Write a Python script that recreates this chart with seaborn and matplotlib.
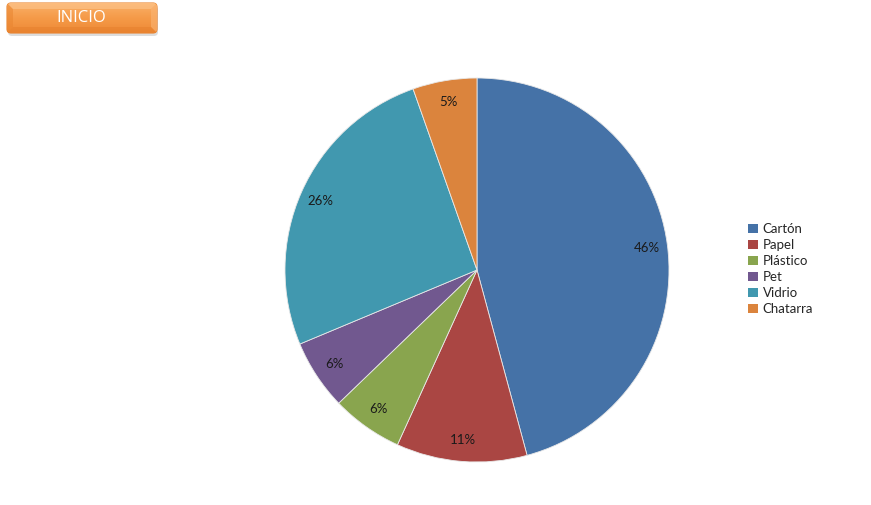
import matplotlib
matplotlib.use("Agg")
import matplotlib.pyplot as plt
from matplotlib.patches import FancyBboxPatch, Patch, Polygon
from matplotlib.colors import LinearSegmentedColormap
import numpy as np
import seaborn as sns

# Share of recovered material by type (percent)
materials = ["Cartón", "Papel", "Plástico", "Pet", "Vidrio", "Chatarra"]
shares = [45.8, 11.0, 6.0, 5.9, 25.9, 5.4]
colors = ["#4572A7", "#AA4643", "#89A54E", "#71588F", "#4198AF", "#DB843D"]

sns.set_theme(style="white")
plt.rcParams["font.family"] = ["Lato", "DejaVu Sans"]
palette = sns.color_palette(colors)

fig = plt.figure(figsize=(8.71, 5.05), dpi=100)
fig.patch.set_facecolor("white")

# Pie centred at (477, 270) px with radius 192 px
W, H = 871, 505
cx, cy, r = 477, 270, 192
ax = fig.add_axes([(cx - r) / W, (H - cy - r) / H, 2 * r / W, 2 * r / H])
wedges, texts, autotexts = ax.pie(
    shares,
    colors=palette,
    startangle=90,
    counterclock=False,
    autopct=lambda p: f"{p:.0f}%",
    pctdistance=0.89,
    wedgeprops=dict(edgecolor="#e8e8e8", linewidth=0.6),
    textprops=dict(fontsize=9.5, color="#1a1a1a"),
)
ax.set_xlim(-1, 1)
ax.set_ylim(-1, 1)
ax.set_aspect("equal")
ax.axis("off")

# Legend on the right
handles = [Patch(facecolor=c, edgecolor="none") for c in palette]
fig.legend(
    handles, materials,
    loc="upper left",
    bbox_to_anchor=(743 / W, 1 - 218 / H),
    frameon=False,
    fontsize=9.5,
    handlelength=0.7,
    handleheight=0.7,
    handletextpad=0.4,
    labelspacing=0.3,
    borderaxespad=0,
    labelcolor="#262626",
)

# "INICIO" button in the top-left corner, pixel-space overlay axes
bax = fig.add_axes([0, 0, 1, 1], zorder=5)
bax.axis("off")
bx, by, bw, bh = 7, 3, 150, 30

shadow = FancyBboxPatch((bx + 1, by + 3), bw, bh,
                        boxstyle="round,pad=0,rounding_size=4",
                        facecolor="#bdbdbd", edgecolor="none", alpha=0.5, zorder=1)
bax.add_patch(shadow)
body = FancyBboxPatch((bx, by), bw, bh, boxstyle="round,pad=0,rounding_size=4",
                      facecolor="#F59A48", edgecolor="#E8832E", linewidth=0.8, zorder=2)
bax.add_patch(body)
grad = LinearSegmentedColormap.from_list("btn", ["#FAB068", "#F59A48", "#EE8A36"])
img = bax.imshow(np.linspace(0, 1, 64).reshape(-1, 1), cmap=grad, aspect="auto",
                 extent=(bx, bx + bw, by + bh, by), interpolation="bilinear", zorder=3)
img.set_clip_path(body)
# bevel faces
bev = 6
faces = [
    ([(bx, by), (bx + bev, by + bev), (bx + bev, by + bh - bev), (bx, by + bh)], "#E98530", 0.55),
    ([(bx + bw, by), (bx + bw - bev, by + bev), (bx + bw - bev, by + bh - bev), (bx + bw, by + bh)],
     "#FBB574", 0.6),
    ([(bx, by), (bx + bw, by), (bx + bw - bev, by + bev), (bx + bev, by + bev)], "#FDC48C", 0.6),
    ([(bx, by + bh), (bx + bw, by + bh), (bx + bw - bev, by + bh - bev), (bx + bev, by + bh - bev)],
     "#E57F2C", 0.5),
]
for pts, fc, a in faces:
    p = Polygon(pts, closed=True, facecolor=fc, edgecolor="none", alpha=a, zorder=4)
    bax.add_patch(p)
    p.set_clip_path(body)
bax.text(bx + bw / 2 - 1, by + bh / 2, "INICIO", ha="center", va="center",
         fontsize=12, color="white", family=["Open Sans", "DejaVu Sans"], zorder=6)
bax.set_xlim(0, W)
bax.set_ylim(H, 0)

fig.savefig("out.png", dpi=100)
